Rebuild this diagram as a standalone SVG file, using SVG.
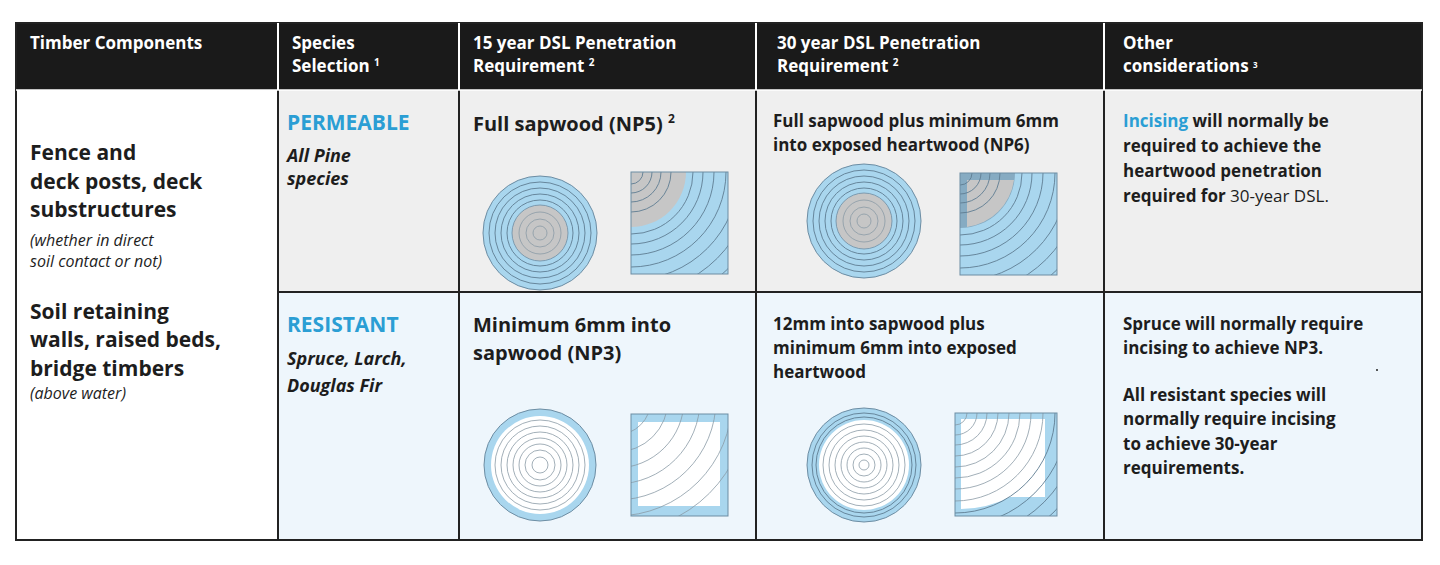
<svg xmlns="http://www.w3.org/2000/svg" width="1440" height="565" viewBox="0 0 1440 565">
<style>
text{font-family:"Open Sans","Liberation Sans",sans-serif;font-weight:700;fill:#1d1d1d}
.h{fill:#fff;font-size:17px}
.big{font-size:21px}
.it{font-style:italic;font-weight:400;font-size:16px}
.sp{font-style:italic;font-weight:700;font-size:18px}
.blue{fill:#2b9ed4}
.m{font-size:17px}
.ring{fill:none;stroke:#5f7d92;stroke-width:0.9}
.gring{fill:none;stroke:#8a9aa6;stroke-width:0.8}
.sap{fill:#a9d6ee;stroke:#6d8da3;stroke-width:1}
.heart{fill:#c6c6c6}
.line{stroke:#222;stroke-width:2;fill:none}
</style>
<defs>
<clipPath id="c1"><rect x="631" y="172" width="97" height="102"/></clipPath>
<clipPath id="c2"><rect x="960" y="173" width="97" height="102"/></clipPath>
<clipPath id="c3"><rect x="631" y="414" width="97" height="102"/></clipPath>
<clipPath id="c4"><rect x="955" y="413" width="102" height="103"/></clipPath>
</defs>
<rect width="1440" height="565" fill="#fff"/>
<g id="bg">
<rect x="16" y="23" width="1406" height="67" fill="#1a1a1a"/>
<rect x="278" y="90" width="1144" height="202" fill="#efefef"/>
<rect x="278" y="292" width="1144" height="248" fill="#eef6fc"/>
</g>
<g id="grid">
<rect x="16" y="23" width="1406" height="517" class="line"/>
<line x1="278" y1="23" x2="278" y2="540" class="line"/>
<line x1="459" y1="23" x2="459" y2="540" class="line"/>
<line x1="756" y1="23" x2="756" y2="540" class="line"/>
<line x1="1104" y1="23" x2="1104" y2="540" class="line"/>
<line x1="278" y1="292" x2="1422" y2="292" class="line"/>
<line x1="16" y1="90" x2="1422" y2="90" stroke="#fff" stroke-width="1.5"/>
<line x1="278" y1="23" x2="278" y2="90" stroke="#fff" stroke-width="2"/>
<line x1="459" y1="23" x2="459" y2="90" stroke="#fff" stroke-width="2"/>
<line x1="756" y1="23" x2="756" y2="90" stroke="#fff" stroke-width="2"/>
<line x1="1104" y1="23" x2="1104" y2="90" stroke="#fff" stroke-width="2"/>
</g>
<g id="header">
<text class="h" x="30" y="49">Timber Components</text>
<text class="h" x="292" y="49">Species</text>
<text class="h" x="292" y="72">Selection <tspan font-size="10" dy="-6">1</tspan></text>
<text class="h" x="473" y="49">15 year DSL Penetration</text>
<text class="h" x="473" y="72">Requirement <tspan font-size="10" dy="-6">2</tspan></text>
<text class="h" x="777" y="49">30 year DSL Penetration</text>
<text class="h" x="777" y="72">Requirement <tspan font-size="10" dy="-6">2</tspan></text>
<text class="h" x="1123" y="49">Other</text>
<text class="h" x="1123" y="72" font-size="15">considerations <tspan font-size="8" dy="-4">3</tspan></text>
</g>
<g id="components">
<text class="big" x="30" y="160">Fence and</text>
<text class="big" x="30" y="189">deck posts, deck</text>
<text class="big" x="30" y="217">substructures</text>
<text class="it" x="30" y="246">(whether in direct</text>
<text class="it" x="30" y="267">soil contact or not)</text>
<text class="big" x="30" y="319">Soil retaining</text>
<text class="big" x="30" y="347">walls, raised beds,</text>
<text class="big" x="30" y="376">bridge timbers</text>
<text class="it" x="30" y="399">(above water)</text>
</g>
<g id="species">
<text class="big blue" x="287" y="130">PERMEABLE</text>
<text class="sp" x="287" y="162">All Pine</text>
<text class="sp" x="287" y="185">species</text>
<text class="big blue" x="287" y="332">RESISTANT</text>
<text class="sp" x="287" y="365">Spruce, Larch,</text>
<text class="sp" x="287" y="392">Douglas Fir</text>
</g>
<g id="req15">
<text x="473" y="131" font-size="20">Full sapwood (NP5) <tspan font-size="12" dy="-8">2</tspan></text>
<text x="473" y="332" font-size="20">Minimum 6mm into</text>
<text x="473" y="360" font-size="20">sapwood (NP3)</text>
<circle cx="540" cy="233" r="57" class="sap"/>
<circle cx="540" cy="233" r="51" class="ring"/><circle cx="540" cy="233" r="45" class="ring"/><circle cx="540" cy="233" r="39" class="ring"/><circle cx="540" cy="233" r="33" class="ring"/>
<circle cx="540" cy="233" r="28" class="heart" stroke="#6d8da3" stroke-width="0.8"/>
<circle cx="540" cy="233" r="21" class="gring"/><circle cx="540" cy="233" r="14" class="gring"/><circle cx="540" cy="233" r="7" class="gring"/>
<g clip-path="url(#c1)">
<rect x="631" y="172" width="97" height="102" fill="#a9d6ee"/>
<circle cx="631" cy="172" r="55" class="heart"/>
<circle cx="631" cy="172" r="12" class="ring"/><circle cx="631" cy="172" r="21" class="ring"/><circle cx="631" cy="172" r="30" class="ring"/><circle cx="631" cy="172" r="40" class="ring"/>
<circle cx="631" cy="172" r="62" class="ring"/><circle cx="631" cy="172" r="72" class="ring"/><circle cx="631" cy="172" r="83" class="ring"/><circle cx="631" cy="172" r="95" class="ring"/><circle cx="631" cy="172" r="108" class="ring"/><circle cx="631" cy="172" r="122" class="ring"/><circle cx="631" cy="172" r="137" class="ring"/>
</g>
<rect x="631" y="172" width="97" height="102" fill="none" stroke="#6d8da3"/>
<circle cx="540" cy="465" r="56" class="sap"/>
<circle cx="540" cy="465" r="49" fill="#fff"/>
<circle cx="540" cy="465" r="45" class="gring"/><circle cx="540" cy="465" r="39" class="gring"/><circle cx="540" cy="465" r="33" class="gring"/><circle cx="540" cy="465" r="27" class="gring"/><circle cx="540" cy="465" r="21" class="gring"/><circle cx="540" cy="465" r="15" class="gring"/><circle cx="540" cy="465" r="8" class="gring"/>
<g clip-path="url(#c3)">
<rect x="631" y="414" width="97" height="102" fill="#a9d6ee"/>
<rect x="638" y="422" width="82" height="84" fill="#fff"/>
<circle cx="616" cy="400" r="35" class="gring"/><circle cx="616" cy="400" r="52" class="gring"/><circle cx="616" cy="400" r="68" class="gring"/><circle cx="616" cy="400" r="84" class="gring"/><circle cx="616" cy="400" r="100" class="gring"/><circle cx="616" cy="400" r="116" class="gring"/><circle cx="616" cy="400" r="132" class="gring"/>
</g>
<rect x="631" y="414" width="97" height="102" fill="none" stroke="#6d8da3"/>
</g>
<g id="req30">
<text class="m" x="773" y="127">Full sapwood plus minimum 6mm</text>
<text class="m" x="773" y="151">into exposed heartwood (NP6)</text>
<text class="m" x="773" y="330">12mm into sapwood plus</text>
<text class="m" x="773" y="354">minimum 6mm into exposed</text>
<text class="m" x="773" y="378">heartwood</text>
<circle cx="864" cy="221" r="57" class="sap"/>
<circle cx="864" cy="221" r="51" class="ring"/><circle cx="864" cy="221" r="45" class="ring"/><circle cx="864" cy="221" r="39" class="ring"/><circle cx="864" cy="221" r="33" class="ring"/>
<circle cx="864" cy="221" r="28" class="heart" stroke="#6d8da3" stroke-width="0.8"/>
<circle cx="864" cy="221" r="21" class="gring"/><circle cx="864" cy="221" r="14" class="gring"/><circle cx="864" cy="221" r="7" class="gring"/>
<g clip-path="url(#c2)">
<rect x="960" y="173" width="97" height="102" fill="#a9d6ee"/>
<circle cx="960" cy="173" r="55" fill="#86abc2"/>
<path d="M967 180 H1014 A55 55 0 0 1 967 227 Z" fill="#c6c6c6"/>
<circle cx="960" cy="173" r="12" class="ring"/><circle cx="960" cy="173" r="21" class="ring"/><circle cx="960" cy="173" r="30" class="ring"/><circle cx="960" cy="173" r="40" class="ring"/>
<circle cx="960" cy="173" r="62" class="ring"/><circle cx="960" cy="173" r="72" class="ring"/><circle cx="960" cy="173" r="83" class="ring"/><circle cx="960" cy="173" r="95" class="ring"/><circle cx="960" cy="173" r="108" class="ring"/><circle cx="960" cy="173" r="122" class="ring"/><circle cx="960" cy="173" r="137" class="ring"/>
</g>
<rect x="960" y="173" width="97" height="102" fill="none" stroke="#6d8da3"/>
<circle cx="864" cy="465" r="57" class="sap"/>
<circle cx="864" cy="465" r="52" class="ring"/><circle cx="864" cy="465" r="48" class="ring"/>
<circle cx="864" cy="465" r="45" fill="#fff"/>
<circle cx="864" cy="465" r="41" class="gring"/><circle cx="864" cy="465" r="35" class="gring"/><circle cx="864" cy="465" r="29" class="gring"/><circle cx="864" cy="465" r="23" class="gring"/><circle cx="864" cy="465" r="17" class="gring"/><circle cx="864" cy="465" r="11" class="gring"/><circle cx="864" cy="465" r="5" class="gring"/>
<g clip-path="url(#c4)">
<rect x="955" y="413" width="102" height="103" fill="#a9d6ee"/>
<path d="M961 419 H1045 V497 H1010 A110 110 0 0 1 961 509 Z" fill="#fff"/>
<circle cx="955" cy="413" r="12" class="gring"/><circle cx="955" cy="413" r="22" class="gring"/><circle cx="955" cy="413" r="32" class="gring"/><circle cx="955" cy="413" r="43" class="gring"/><circle cx="955" cy="413" r="54" class="gring"/><circle cx="955" cy="413" r="65" class="gring"/><circle cx="955" cy="413" r="76" class="gring"/><circle cx="955" cy="413" r="88" class="gring"/>
<circle cx="955" cy="413" r="100" class="ring"/><circle cx="955" cy="413" r="113" class="ring"/><circle cx="955" cy="413" r="126" class="ring"/><circle cx="955" cy="413" r="140" class="ring"/>
</g>
<rect x="955" y="413" width="102" height="103" fill="none" stroke="#6d8da3"/>
</g>
<g id="other">
<text class="m" x="1123" y="127"><tspan class="blue">Incising</tspan> will normally be</text>
<text class="m" x="1123" y="152">required to achieve the</text>
<text class="m" x="1123" y="177">heartwood penetration</text>
<text class="m" x="1123" y="202">required for <tspan font-weight="400">30-year DSL.</tspan></text>
<text class="m" x="1123" y="330">Spruce will normally require</text>
<text class="m" x="1123" y="354">incising to achieve NP3.</text>
<circle cx="1377" cy="370" r="1" fill="#222"/>
<text class="m" x="1123" y="401">All resistant species will</text>
<text class="m" x="1123" y="425">normally require incising</text>
<text class="m" x="1123" y="450">to achieve 30-year</text>
<text class="m" x="1123" y="474">requirements.</text>
</g>
</svg>
